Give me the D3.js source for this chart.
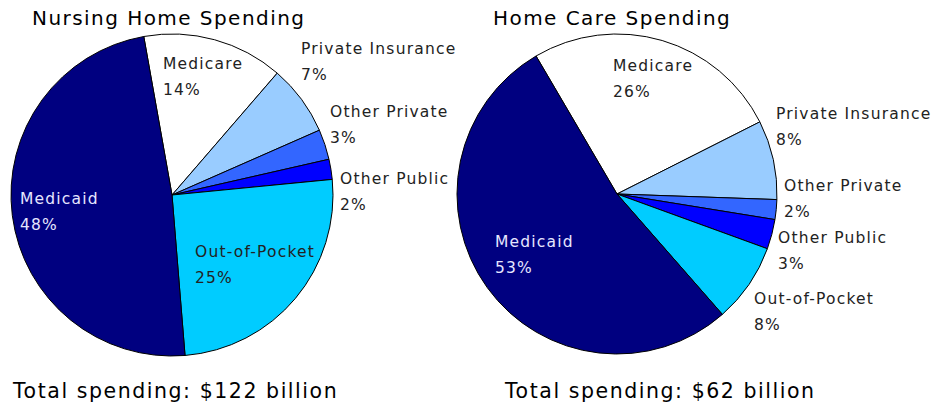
<!DOCTYPE html>
<html><head><meta charset="utf-8">
<script src="https://cdn.jsdelivr.net/npm/d3@7"></script>
<style>body{margin:0;background:#fff}svg{display:block}text{font-family:"DejaVu Sans",Verdana,sans-serif;fill:#000}</style>
</head><body>
<script>
const categories = ["Medicare","Private Insurance","Other Private","Other Public","Out-of-Pocket","Medicaid"];
const nursingValues = [14,7,3,2,25,48];
const homeCareValues = [26,8,2,3,8,53];
const titles = ["Nursing Home Spending","Home Care Spending"];
const totals = ["Total spending: $122 billion","Total spending: $62 billion"];
const colors = ["#FFFFFF","#99CCFF","#3366FF","#0000FF","#00CCFF","#000080"];

// layout
const W = 935, H = 409;
const panels = [
  {values: nursingValues, cx: 172, cy: 195, r: 161, start: -10.1,
   title: [32, 25], total: [13, 398],
   labels: [[163,69],[301,54],[330,117],[340,184],[195,257],[20,204]]},
  {values: homeCareValues, cx: 617, cy: 194, r: 160, start: -30.4,
   title: [493, 25], total: [505, 398],
   labels: [[613,71],[776,119],[784,191],[778,243],[754,304],[495,247]]}
];

const svg = d3.select("body").append("svg").attr("width", W).attr("height", H);
const color = d3.scaleOrdinal().domain(categories).range(colors);

panels.forEach((p, pi) => {
  const s = p.start * Math.PI / 180;
  const pie = d3.pie().sort(null).startAngle(s).endAngle(s + 2*Math.PI);
  const arcs = pie(p.values);
  const arc = d3.arc().innerRadius(0).outerRadius(p.r);
  const g = svg.append("g").attr("transform", `translate(${p.cx},${p.cy})`);
  g.selectAll("path").data(arcs).join("path")
    .attr("d", arc)
    .attr("fill", (d, i) => color(categories[i]))
    .attr("stroke", "#000").attr("stroke-width", 1).attr("stroke-linejoin", "round");

  svg.append("text").attr("x", p.title[0]).attr("y", p.title[1])
    .attr("font-size", 20).attr("letter-spacing", 1.45).text(titles[pi]);
  svg.append("text").attr("x", p.total[0]).attr("y", p.total[1])
    .attr("font-size", 20.5).attr("letter-spacing", 1.55).text(totals[pi]);

  arcs.forEach((d, i) => {
    const [lx, ly] = p.labels[i];
    const t = svg.append("text").attr("x", lx).attr("y", ly)
      .attr("font-size", 15.5).attr("letter-spacing", 1.2)
      .style("fill", categories[i] === "Medicaid" ? "#E6E6FF" : "#222");
    t.append("tspan").attr("x", lx).text(categories[i]);
    t.append("tspan").attr("x", lx).attr("dy", 26).text(Math.round(p.values[i]) + "%");
  });
});
</script>
</body></html>
